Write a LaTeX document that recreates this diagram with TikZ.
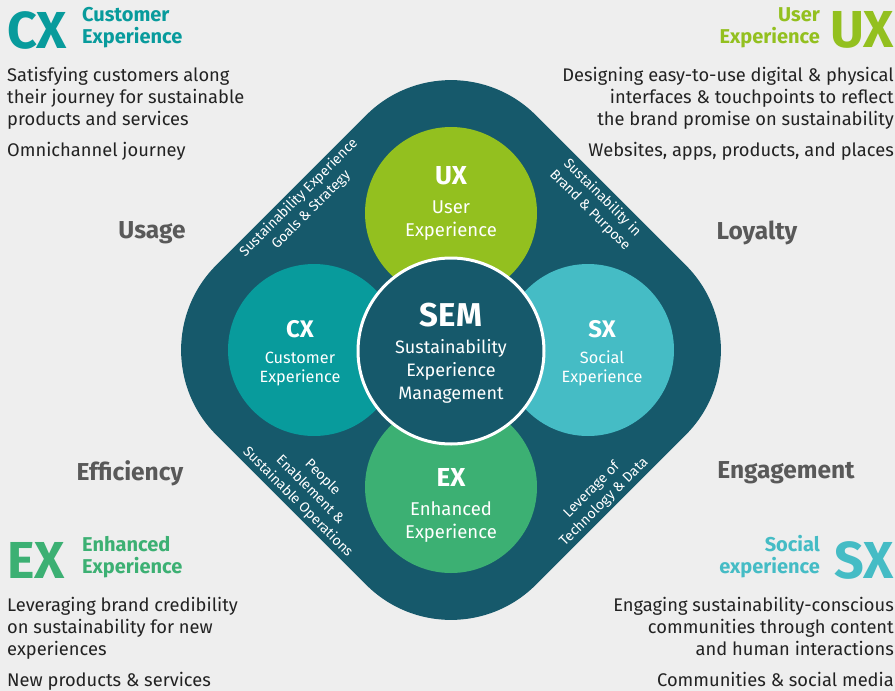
\documentclass[tikz,border=0pt]{standalone}
\usepackage{fontspec}
\setmainfont{Fira Sans}
\usetikzlibrary{positioning}
\definecolor{bgc}{HTML}{EEEEEE}
\definecolor{semblue}{HTML}{16596B}
\definecolor{uxgreen}{HTML}{93C01F}
\definecolor{cxteal}{HTML}{089B9C}
\definecolor{sxteal}{HTML}{45BCC5}
\definecolor{exgreen}{HTML}{3CB073}
\definecolor{labelgray}{HTML}{595959}
\definecolor{bodytext}{HTML}{222222}
\tikzset{
    frame/.style={
    rectangle,rounded corners=120pt,fill=semblue,minimum size=452pt,inner sep=0pt
    },
    bubble/.style={
    circle,minimum size=172pt,inner sep=0pt
    },
    bubbletext/.style={
    text=white,align=center,font=\fontsize{18.5}{23}\selectfont
    },
    edgetext/.style={
    text=white,align=center,font=\fontsize{14}{17.5}\selectfont,inner sep=0pt
    },
    pillar/.style={
    text=labelgray,font=\bfseries\fontsize{24.5}{26}\selectfont
    },
    bigtag/.style={
    font=\bfseries\fontsize{52}{52}\selectfont,inner sep=0pt
    },
    tagname/.style={
    align=left,font=\bfseries\fontsize{20}{22}\selectfont,inner sep=0pt
    },
    bodyblock/.style={
    text=bodytext,font=\fontsize{18.3}{22}\selectfont,inner sep=0pt
    },
}
\begin{document}
\begin{tikzpicture}[x=1pt,y=-1pt]
  \fill[bgc] (0,0) rectangle (895,691);
  \node[frame,rotate=45] (diamond) at (451,350) {};
  \node[bubble,fill=uxgreen] (UX) at (451,213) {};
  \node[bubble,fill=cxteal] (CX) at (314,350) {};
  \node[bubble,fill=sxteal] (SX) at (588,350) {};
  \node[bubble,fill=exgreen] (EX) at (451,487) {};
  \node[bubble,minimum size=186pt,fill=semblue,draw=white,line width=3pt] (SEM) at (451,351) {};

  \node[bubbletext] (UXtext) at (451,203) {{\bfseries\fontsize{26}{26}\selectfont UX}\\[6pt]User\\Experience};
  \node[bubbletext,font=\fontsize{16.3}{19}\selectfont] (CXtext) at (300,353) {{\bfseries\fontsize{24}{24}\selectfont CX}\\[7pt]Customer\\Experience};
  \node[bubbletext,font=\fontsize{16.3}{19}\selectfont] (SXtext) at (602,353) {{\bfseries\fontsize{24}{24}\selectfont SX}\\[7pt]Social\\Experience};
  \node[bubbletext] (EXtext) at (451,505) {{\bfseries\fontsize{26}{26}\selectfont EX}\\[6pt]Enhanced\\Experience};
  \node[bubbletext,font=\fontsize{18}{23}\selectfont] (SEMtext) at (451,353) {{\bfseries\fontsize{33}{33}\selectfont SEM}\\[4pt]Sustainability\\Experience\\Management};

  \node[edgetext,rotate=45] (goals) at (305,204) {Sustainability Experience\\Goals \& Strategy};
  \node[edgetext,rotate=-45] (brand) at (596,204) {Sustainability in\\Brand \& Purpose};
  \node[edgetext,rotate=-45] (people) at (310,490) {People\\Enablement \&\\Sustainable Operations};
  \node[edgetext,rotate=45] (tech) at (598,496) {Leverage of\\Technology \& Data};

  \node[pillar] (usage) at (152,233) {Usage};
  \node[pillar] (loyalty) at (757,233) {Loyalty};
  \node[pillar] (efficiency) at (130,473) {Efficiency};
  \node[pillar] (engagement) at (786,473) {Engagement};

  \node[bigtag,text=cxteal,anchor=west] (CXbig) at (7,30) {CX};
  \node[tagname,text=cxteal,anchor=west] (CXname) at (82,28) {Customer\\Experience};
  \node[bodyblock,align=left,anchor=north west] (CXbody) at (7,67) {Satisfying customers along\\their journey for sustainable\\products and services\\[9pt]Omnichannel journey};

  \node[bigtag,text=uxgreen,anchor=east] (UXbig) at (894,30) {UX};
  \node[tagname,text=uxgreen,align=right,anchor=east] (UXname) at (820,28) {User\\Experience};
  \node[bodyblock,align=right,anchor=north east] (UXbody) at (894,67) {Designing easy-to-use digital \& physical\\interfaces \& touchpoints to reflect\\the brand promise on sustainability\\[9pt]Websites, apps, products, and places};

  \node[bigtag,text=exgreen,anchor=west] (EXbig) at (7,560) {EX};
  \node[tagname,text=exgreen,anchor=west] (EXname) at (82,557) {Enhanced\\Experience};
  \node[bodyblock,align=left,anchor=north west] (EXbody) at (7,597) {Leveraging brand credibility\\on sustainability for new\\experiences\\[9pt]New products \& services};

  \node[bigtag,text=sxteal,anchor=east] (SXbig) at (894,560) {SX};
  \node[tagname,text=sxteal,align=right,anchor=east] (SXname) at (820,557) {Social\\experience};
  \node[bodyblock,align=right,anchor=north east] (SXbody) at (894,597) {Engaging sustainability-conscious\\communities through content\\and human interactions\\[9pt]Communities \& social media};
\end{tikzpicture}
\end{document}
